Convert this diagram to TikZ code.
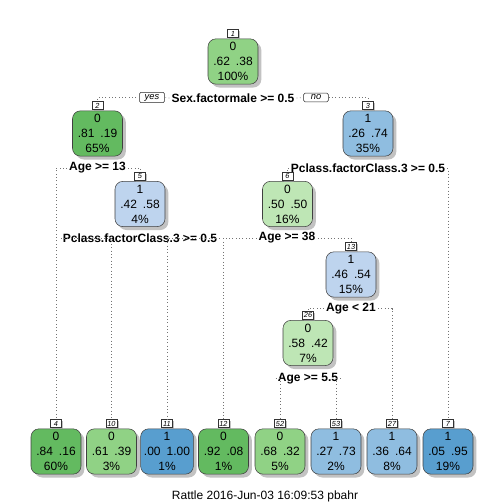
\documentclass[tikz,border=0pt]{standalone}
\usepackage{fontspec}
\setmainfont{Liberation Sans}
\usepackage{xcolor}
\usetikzlibrary{positioning,shadows}

\definecolor{gdark}{RGB}{99,186,96}
\definecolor{gmid}{RGB}{144,210,133}
\definecolor{glight}{RGB}{190,230,181}
\definecolor{blight}{RGB}{190,212,238}
\definecolor{bmid}{RGB}{143,189,224}
\definecolor{bdark}{RGB}{88,158,207}

\begin{document}
\begin{tikzpicture}[
      x=0.75pt, y=-0.75pt,
      box/.style={rectangle, draw=black!75, align=center, rounded corners=6pt, minimum width=37.5pt, minimum height=34pt,
        inner sep=2.5pt, font=\fontsize{9}{11.2}\selectfont, drop shadow={shadow xshift=2.5pt, shadow yshift=-2.5pt, fill=black!40, opacity=0.6}},
      tag/.style={rectangle, draw=black!80, fill=white, inner sep=1pt, minimum width=8pt, minimum height=6pt,
        font=\fontsize{5.5}{6}\selectfont\itshape, drop shadow={shadow xshift=1.2pt, shadow yshift=-1.2pt, fill=black!40, opacity=0.6}},
      split/.style={font=\fontsize{9}{11}\selectfont\bfseries, inner sep=1.5pt},
      yesno/.style={rectangle, draw=black!85, fill=white, rounded corners=1pt, inner sep=1.3pt, minimum width=18.5pt,
        font=\fontsize{7}{7.5}\selectfont\itshape},
      edge/.style={draw=black!55, dotted, line width=0.5pt}
    ]
    \useasboundingbox (0,0) rectangle (504,504);

    % ============ INNER NODES ============
    \node[box, fill=gmid] (n1) at (233,61.5) {0\\.62\enspace.38\\100\%};
    \node[box, fill=gdark] (n2) at (97.5,133.5) {0\\.81\enspace.19\\65\%};
    \node[box, fill=bmid] (n3) at (368,133.5) {1\\.26\enspace.74\\35\%};
    \node[box, fill=blight] (n5) at (140,204) {1\\.42\enspace.58\\4\%};
    \node[box, fill=glight] (n6) at (287.5,204) {0\\.50\enspace.50\\16\%};
    \node[box, fill=blight] (n13) at (351,274.5) {1\\.46\enspace.54\\15\%};
    \node[box, fill=glight] (n26) at (308,343) {0\\.58\enspace.42\\7\%};

    % ============ LEAVES ============
    \node[box, fill=gdark] (n4) at (56,451.5) {0\\.84\enspace.16\\60\%};
    \node[box, fill=gmid] (n10) at (111.5,451.5) {0\\.61\enspace.39\\3\%};
    \node[box, fill=bdark] (n11) at (167,451.5) {1\\.00\enspace1.00\\1\%};
    \node[box, fill=gdark] (n12) at (223.5,451.5) {0\\.92\enspace.08\\1\%};
    \node[box, fill=gmid] (n52) at (280,451.5) {0\\.68\enspace.32\\5\%};
    \node[box, fill=bmid] (n53) at (336,451.5) {1\\.27\enspace.73\\2\%};
    \node[box, fill=bmid] (n27) at (392,451.5) {1\\.36\enspace.64\\8\%};
    \node[box, fill=bdark] (n7) at (448,451.5) {1\\.05\enspace.95\\19\%};

    % node numbers
    \foreach \n in {1,2,3,4,5,6,7,10,11,12,13,26,27,52,53}
      \node[tag, above=0.6pt of n\n] (t\n) {\n};

    % ============ SPLITS ============
    \node[split] (s1) at (233,98) {Sex.factormale >= 0.5};
    \node[yesno] (yes) at (152,97.5) {yes};
    \node[yesno] (no) at (316,97.5) {no};
    \node[split] (s2) at (97.5,168) {Age >= 13};
    \node[split] (s3) at (368,168) {Pclass.factorClass.3 >= 0.5};
    \node[split] (s5) at (140,238) {Pclass.factorClass.3 >= 0.5};
    \node[split] (s6) at (287,238) {Age >= 38};
    \node[split] (s13) at (351,308.5) {Age < 21};
    \node[split] (s26) at (308,378.5) {Age >= 5.5};

    % ============ BRANCHES ============
    \draw[edge] (s1.west) -- (yes.east);
    \draw[edge] (yes.west) -| (t2.north);
    \draw[edge] (s1.east) -- (no.west);
    \draw[edge] (no.east) -| (t3.north);
    \draw[edge] (s2.west) -| (t4.north);
    \draw[edge] (s2.east) -| (t5.north);
    \draw[edge] (s3.west) -| (t6.north);
    \draw[edge] (s3.east) -| (t7.north);
    \draw[edge] (s5.west) -| (t10.north);
    \draw[edge] (s5.east) -| (t11.north);
    \draw[edge] (s6.west) -| (t12.north);
    \draw[edge] (s6.east) -| (t13.north);
    \draw[edge] (s13.west) -| (t26.north);
    \draw[edge] (s13.east) -| (t27.north);
    \draw[edge] (s26.west) -| (t52.north);
    \draw[edge] (s26.east) -| (t53.north);

    % footer
    \node[font=\fontsize{9}{11}\selectfont] (foot) at (265,496) {Rattle 2016-Jun-03 16:09:53 pbahr};

  \end{tikzpicture}
\end{document}
